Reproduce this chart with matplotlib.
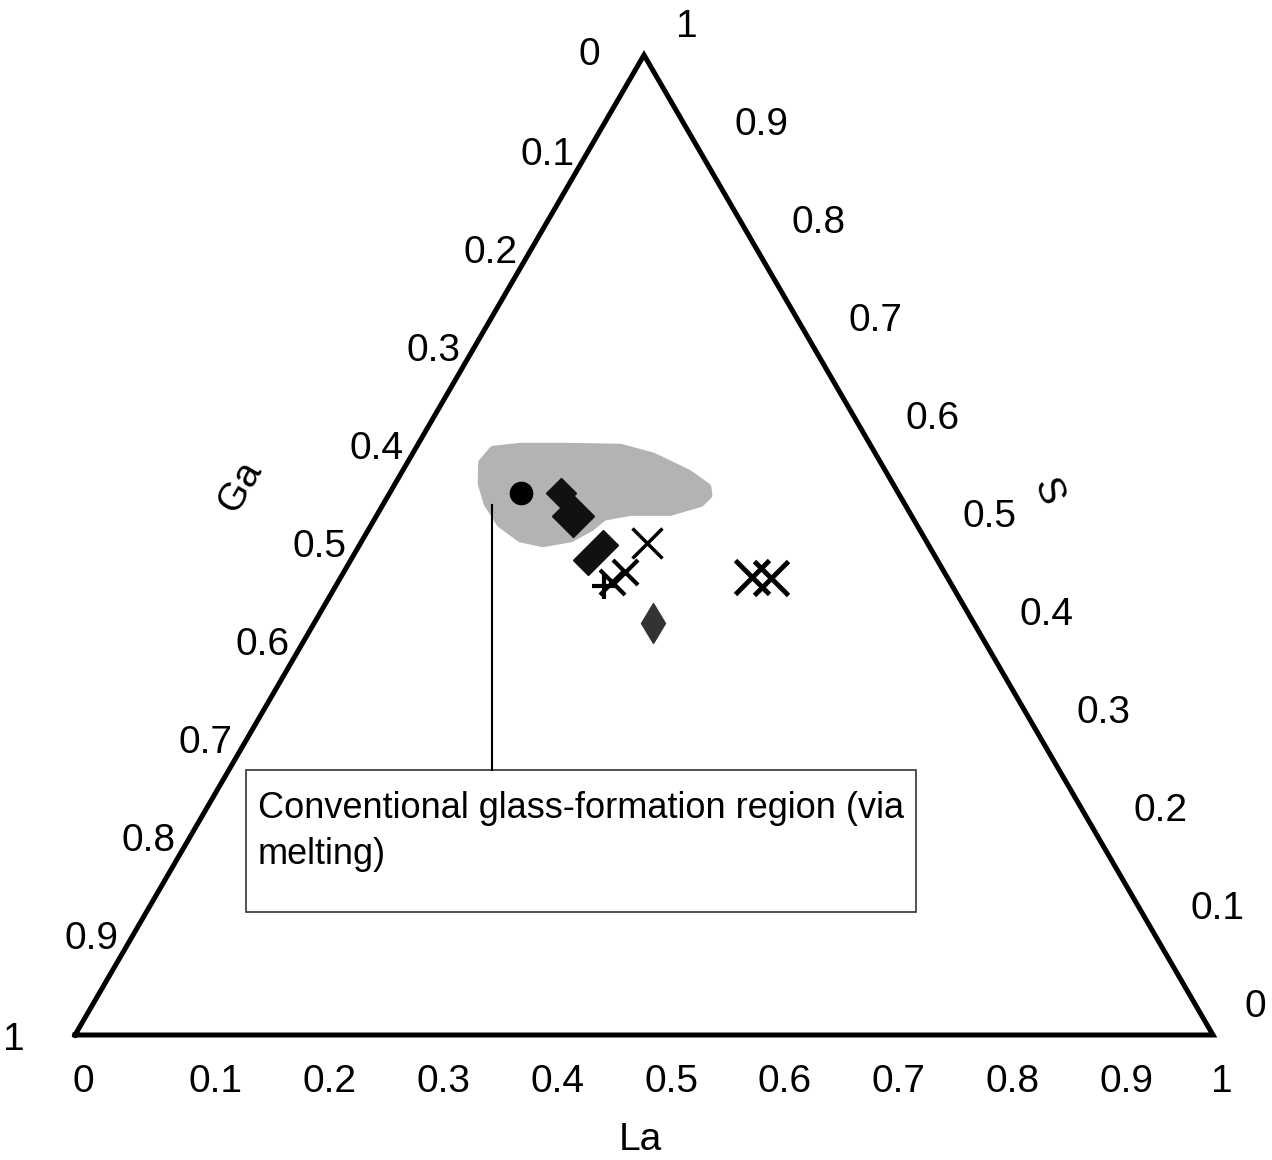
"""Ga-La-S ternary diagram with the conventional glass-formation region."""

import numpy as np
import matplotlib

matplotlib.use("Agg")
import matplotlib.pyplot as plt
from matplotlib.patches import Polygon, Rectangle

plt.rcParams["font.family"] = ["Liberation Sans", "DejaVu Sans"]

# compositions as (La, S) fractions; Ga = 1 - La - S
TICKS = [0.0, 0.1, 0.2, 0.3, 0.4, 0.5, 0.6, 0.7, 0.8, 0.9, 1.0]
TICK_LABELS = ["0", "0.1", "0.2", "0.3", "0.4", "0.5", "0.6", "0.7", "0.8", "0.9", "1"]

# conventional glass-formation region outline
region_la = [0.066, 0.069, 0.091, 0.135, 0.180, 0.213, 0.252, 0.276, 0.281, 0.278,
             0.256, 0.221, 0.200, 0.194, 0.182, 0.160, 0.138, 0.113, 0.091, 0.076]
region_s = [0.584, 0.597, 0.600, 0.600, 0.599, 0.590, 0.573, 0.559, 0.551, 0.543,
            0.534, 0.534, 0.529, 0.518, 0.507, 0.502, 0.507, 0.522, 0.543, 0.563]

circle_la, circle_s = [0.115], [0.553]
diamond_la = [0.151, 0.173, 0.208, 0.214]
diamond_s = [0.553, 0.530, 0.485, 0.500]
diamond_ms = [15, 21, 15, 15]
small_diamond_la, small_diamond_s = [0.298], [0.420]
thin_x_la, thin_x_s = [0.252], [0.502]
cluster_x_la, cluster_x_s = [0.241, 0.247], [0.462, 0.472]
cluster_plus_la, cluster_plus_s = [0.236], [0.458]
bold_x_la = [0.361, 0.379]
bold_x_s = [0.467, 0.466]

H = np.sqrt(3) / 2
PX_X, PX_Y = 1138.0, 1131.6  # pixels per data unit


def to_xy(la, s):
    la, s = np.asarray(la, float), np.asarray(s, float)
    return la + s / 2, s * H


def px(dx, dy):
    """pixel offset -> data offset (dy positive = down)"""
    return dx / PX_X, -dy / PX_Y


fig = plt.figure(figsize=(12.72, 11.6), dpi=100)
ax = fig.add_axes([0, 0, 1, 1])
ax.set_xlim(-75 / PX_X, (1272 - 75) / PX_X)
ax.set_ylim(-(1160 - 1035) / PX_Y, 1035 / PX_Y)
ax.axis("off")

# frame
tri_x, tri_y = to_xy([0, 1, 0, 0], [0, 0, 1, 0])
ax.plot(tri_x, tri_y, color="black", lw=3.6, solid_joinstyle="miter", zorder=3)

fs = 28
# bottom: La
for t, lab in zip(TICKS, TICK_LABELS):
    x, y = to_xy(t, 0)
    ox, oy = px(-2 if t in (0.0, 1.0) else 0, 47)
    ax.text(x + ox, y + oy, lab, fontsize=fs, ha="left", va="center")
# right: S
for t, lab in zip(TICKS, TICK_LABELS):
    x, y = to_xy(1 - t, t)
    ox, oy = px(34 if 0 < t < 1 else 32, -28)
    ax.text(x + ox, y + oy, lab, fontsize=fs, ha="left", va="center")
# left: Ga
for t, lab in zip(TICKS, TICK_LABELS):
    x, y = to_xy(0, 1 - t)
    if t == 0:
        ox, oy = px(-44, 0)
    elif t == 1:
        ox, oy = px(-50, 5)
    else:
        ox, oy = px(-13, 2)
    ax.text(x + ox, y + oy, lab, fontsize=fs, ha="right", va="center")

# axis titles
x, y = to_xy(0.5, 0)
ox, oy = px(-4, 105)
ax.text(x + ox, y + oy, "La", fontsize=fs, ha="center", va="center")
x, y = to_xy(0, 0.55)
ox, oy = px(-148, -9)
ax.text(x + ox, y + oy, "Ga", fontsize=fs, ha="center", va="center", rotation=60)
x, y = to_xy(0.45, 0.55)
ox, oy = px(147, -4)
ax.text(x + ox, y + oy, "S", fontsize=fs, ha="center", va="center", rotation=-70)

# glass-formation region
rx, ry = to_xy(region_la, region_s)
ax.add_patch(Polygon(np.column_stack([rx, ry]), closed=True, facecolor="#b3b3b3",
                     edgecolor="#b3b3b3", lw=6, joinstyle="round", zorder=1))

# samples
ax.plot(*to_xy(circle_la, circle_s), "o", color="black", ms=16, zorder=4)
for la, s, ms in zip(diamond_la, diamond_s, diamond_ms):
    ax.plot(*to_xy(la, s), "D", color="#111111", ms=ms, zorder=4)
ax.plot(*to_xy(small_diamond_la, small_diamond_s), "d", color="#333333", ms=20, zorder=4)
ax.plot(*to_xy(thin_x_la, thin_x_s), "x", color="black", ms=21, mew=2.5, zorder=4)
ax.plot(*to_xy(cluster_x_la, cluster_x_s), "x", color="black", ms=18, mew=3, zorder=4)
ax.plot(*to_xy(cluster_plus_la, cluster_plus_s), "+", color="black", ms=18, mew=3, zorder=4)
ax.plot(*to_xy(bold_x_la, bold_x_s), "x", color="black", ms=24, mew=3.5, zorder=4)

# annotation box with leader line
bx0, by1 = px(246 - 75, 770 - 1035)
bx1, by0 = px(916 - 75, 912 - 1035)
ax.add_patch(Rectangle((bx0, by0), bx1 - bx0, by1 - by0, facecolor="white",
                       edgecolor="#333333", lw=1.2, zorder=2))
lx, ly0 = px(492 - 75, 505 - 1035)
ax.plot([lx, lx], [ly0, by1], color="black", lw=1.5, zorder=2)
for line, ypx in [("Conventional glass-formation region (via", 808), ("melting)", 855)]:
    tx, ty = px(258 - 75, ypx - 1035)
    ax.text(tx, ty, line, fontsize=26, ha="left", va="center", zorder=3)

fig.savefig("out.png", dpi=100)
